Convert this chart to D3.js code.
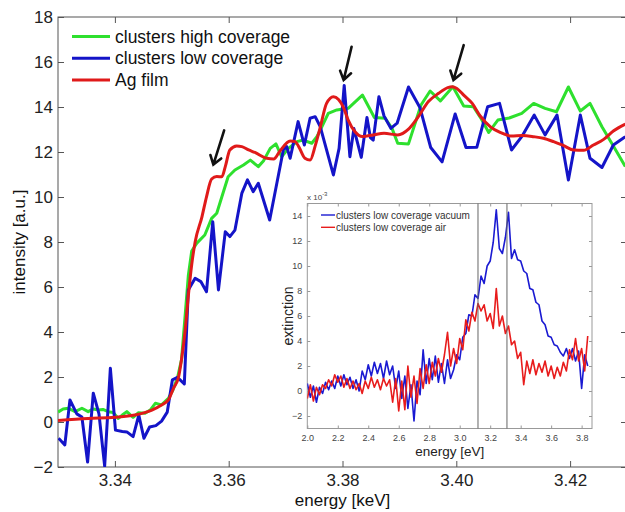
<!DOCTYPE html>
<html><head><meta charset="utf-8">
<script src="https://cdn.jsdelivr.net/npm/d3@7"></script>
<style>
html,body{margin:0;padding:0;background:#fff;}
svg{display:block;font-family:Arial,"Liberation Sans",Helvetica,sans-serif;}
</style></head>
<body><svg id="c" width="625" height="512"></svg>
<script>
// ---------- main chart data ----------
const mainXTicks = [3.34, 3.36, 3.38, 3.40, 3.42];
const mainYTicks = [-2, 0, 2, 4, 6, 8, 10, 12, 14, 16, 18];
const seriesNames = ["clusters high coverage", "clusters low coverage", "Ag film"];

const greenE = [3.3300,3.3309,3.3318,3.3330,3.3342,3.3353,3.3362,3.3371,3.3379,3.3388,3.3397,3.3406,3.3413,3.3421,3.3432,3.3441,3.3453,3.3462,3.3471,3.3482,3.3494,3.3502,3.3510,3.3517,3.3523,3.3529,3.3535,3.3544,3.3558,3.3570,3.3579,3.3588,3.3599,3.3611,3.3626,3.3638,3.3652,3.3661,3.3673,3.3683,3.3693,3.3705,3.3720,3.3731,3.3746,3.3755,3.3761,3.3775,3.3790,3.3810,3.3835,3.3856,3.3875,3.3887,3.3897,3.3916,3.3938,3.3954,3.3972,3.3994,3.4013,3.4030,3.4044,3.4057,3.4073,3.4093,3.4115,3.4136,3.4156,3.4176,3.4197,3.4218,3.4235,3.4256,3.4276,3.4297];
const greenI = [0.44,0.58,0.61,0.46,0.61,0.46,0.58,0.53,0.56,0.46,0.42,0.16,0.31,0.46,0.21,0.41,0.39,0.53,0.83,0.76,1.05,1.42,1.96,2.76,4.6,6.5,7.6,7.95,8.31,9.05,9.28,10.01,10.90,11.20,11.42,11.64,11.35,11.60,12.16,12.36,11.79,12.16,12.46,12.53,12.39,12.68,12.98,13.72,13.87,13.94,14.53,13.53,13.50,13.05,12.39,12.36,14.09,14.71,14.27,14.90,14.04,14.01,13.47,12.87,13.42,13.51,13.72,14.16,13.94,13.79,14.89,13.82,14.16,13.12,12.27,11.35];

const blueE = [3.3301,3.3312,3.3321,3.3333,3.3342,3.3352,3.3362,3.3372,3.3382,3.3392,3.3401,3.3413,3.3421,3.3432,3.3442,3.3451,3.3461,3.3472,3.3482,3.3492,3.3501,3.3510,3.3522,3.3529,3.3541,3.3551,3.3561,3.3572,3.3582,3.3594,3.3602,3.3611,3.3623,3.3633,3.3643,3.3652,3.3672,3.3696,3.3702,3.3708,3.3722,3.3733,3.3743,3.3752,3.3761,3.3784,3.3794,3.3803,3.3813,3.3820,3.3833,3.3843,3.3849,3.3854,3.3864,3.3873,3.3885,3.3896,3.3916,3.3936,3.3955,3.3975,3.3998,3.4017,3.4036,3.4055,3.4076,3.4097,3.4115,3.4137,3.4156,3.4177,3.4197,3.4218,3.4235,3.4256,3.4276,3.4297];
const blueI = [-0.72,-1.02,0.98,0.36,0.22,-1.78,1.28,0.36,-1.96,2.39,-0.36,-0.42,-0.44,-0.65,0.31,-0.72,-0.22,-0.16,0.04,0.44,1.87,1.98,1.69,5.87,6.39,6.24,5.79,8.90,5.87,8.46,8.24,8.53,10.16,10.76,10.24,10.61,8.98,12.09,12.24,11.72,13.35,12.31,13.50,13.57,13.12,10.98,12.16,14.96,11.79,13.04,11.76,13.53,12.64,12.53,14.46,13.60,13.05,13.28,14.89,13.98,12.20,11.56,13.69,12.20,12.21,14.01,14.16,12.09,12.68,13.64,12.76,13.64,10.76,13.64,11.72,11.31,12.31,12.68];

const redE = [3.3300,3.3353,3.3400,3.3435,3.3465,3.3482,3.3494,3.3503,3.3512,3.3517,3.3523,3.3529,3.3535,3.3541,3.3553,3.3561,3.3570,3.3579,3.3588,3.3594,3.3602,3.3614,3.3623,3.3635,3.3646,3.3667,3.3679,3.3690,3.3708,3.3717,3.3723,3.3734,3.3743,3.3752,3.3761,3.3772,3.3784,3.3793,3.3802,3.3810,3.3822,3.3835,3.3854,3.3873,3.3897,3.3916,3.3933,3.3951,3.3969,3.3985,3.3993,3.4001,3.4013,3.4028,3.4042,3.4060,3.4077,3.4097,3.4116,3.4136,3.4153,3.4171,3.4188,3.4206,3.4224,3.4241,3.4259,3.4276,3.4297];
const redI = [0.07,0.16,0.21,0.31,0.53,0.76,0.98,1.50,2.01,2.76,3.96,5.6,7.0,8.0,9.12,10.01,10.80,10.91,10.90,11.35,12.09,12.27,12.24,12.09,11.98,11.72,11.69,12.04,12.49,12.46,12.24,11.72,11.64,12.27,13.11,14.16,14.46,14.33,13.96,13.42,12.90,12.69,12.76,12.83,12.76,13.02,13.56,14.24,14.61,14.86,14.90,14.82,14.53,14.16,13.60,13.12,12.87,12.71,12.73,12.68,12.61,12.46,12.29,12.09,12.08,12.31,12.56,12.93,13.24];

// arrows: tails and tips as [energy, intensity]
const arrowTails = [[3.3592, 12.96], [3.3816, 16.68], [3.4013, 16.75]];
const arrowTips  = [[3.3573, 11.44], [3.3802, 15.20], [3.3995, 15.20]];

// ---------- inset data ----------
const insetXTicks = [2.0, 2.2, 2.4, 2.6, 2.8, 3.0, 3.2, 3.4, 3.6, 3.8];
const insetYTicks = [-2, 0, 2, 4, 6, 8, 10, 12, 14];
const insetNames = ["clusters low coverage vacuum", "clusters low coverage air"];
const insetMarkers = [3.12, 3.31];
const insetE = [2.00,2.02,2.04,2.06,2.08,2.10,2.12,2.14,2.16,2.18,2.20,2.22,2.24,2.26,2.28,2.30,2.32,2.34,2.36,2.38,2.40,2.42,2.44,2.46,2.48,2.50,2.52,2.54,2.56,2.58,2.60,2.62,2.64,2.66,2.68,2.70,2.72,2.74,2.76,2.78,2.80,2.82,2.84,2.86,2.88,2.90,2.92,2.94,2.96,2.98,3.00,3.02,3.04,3.06,3.08,3.10,3.12,3.14,3.16,3.18,3.20,3.22,3.24,3.26,3.28,3.30,3.32,3.34,3.36,3.38,3.40,3.42,3.44,3.46,3.48,3.50,3.52,3.54,3.56,3.58,3.60,3.62,3.64,3.66,3.68,3.70,3.72,3.74,3.76,3.78,3.80,3.82,3.84];
const vacuumExt = [0.6,-0.5,0.4,-0.9,0.3,-0.2,0.7,0.1,0.8,0.2, 1.2,0.4,1.3,0.5,1.1,0.2,0.9,0.0,1.6,0.9, 2.1,1.2,2.3,1.4,2.2,1.0,2.4,1.3,2.0,0.2, 1.6,-0.6,1.2,-1.4,0.5,-2.4,0.8,-0.3,3.3,0.6, 2.6,0.9,2.8,0.7,2.2,0.6,2.5,1.0,1.7,2.9, 2.5,4.3,4.6,6.1,6.0,7.7,7.4,9.2,8.6,10.0, 10.4,11.9,14.5,11.4,11.0,12.3,14.3,10.6,11.3,10.5, 10.4,9.6,9.4,8.2,8.1,7.1,6.9,5.6,5.3,4.4, 4.3,3.7,3.6,3.1,2.8,3.4,2.6,3.4,2.4,3.2, 0.2,2.9,2.0];
const airExt = [-0.6,0.5,-0.8,0.3,-0.3,0.5,0.2,0.9,0.4,1.3, 0.7,1.2,0.3,1.0,0.2,0.8,0.1,0.6,-0.2,0.8, 0.2,1.1,0.3,0.9,0.1,1.0,0.4,0.9,-0.9,1.0, -1.6,0.8,-1.5,2.0,-0.5,1.2,-1.0,1.8,0.2,2.1, 0.6,2.3,1.2,2.6,1.5,2.9,4.7,2.0,3.4,2.2, 4.2,3.3,5.7,4.8,6.3,5.6,7.0,6.4,6.9,5.6, 6.2,5.0,8.2,5.2,6.0,4.6,5.2,3.7,4.0,2.6, 3.1,0.5,2.4,1.4,2.5,1.3,2.2,1.5,2.4,1.2, 2.0,1.0,1.9,1.2,2.3,1.6,3.3,2.5,4.2,2.4, 3.4,1.6,4.4];

// ---------- drawing ----------
const svg = d3.select("#c");
const mainColors = ["#2ee02e", "#1414c8", "#e01a1a"];
const M = {left: 58, right: 627, top: 17, bottom: 467};
const x = d3.scaleLinear().domain([3.33, 3.43]).range([M.left, M.right]);
const y = d3.scaleLinear().domain([-2, 18]).range([M.bottom, M.top]);

svg.append("defs").append("clipPath").attr("id", "mclip")
  .append("rect").attr("x", M.left).attr("y", M.top)
  .attr("width", M.right - M.left).attr("height", M.bottom - M.top);

const axisColor = "#555";
function styleAxis(g, fs) {
  g.select(".domain").remove();
  g.selectAll(".tick line").attr("stroke", axisColor);
  g.selectAll(".tick text").attr("fill", "#222").style("font-size", fs + "px")
    .style("font-family", "Arial, 'Liberation Sans', sans-serif");
}
svg.append("g").attr("transform", `translate(0,${M.bottom})`)
  .call(d3.axisBottom(x).tickValues(mainXTicks).tickFormat(d3.format(".2f")).tickSize(-6).tickPadding(7))
  .call(g => styleAxis(g, 17));
svg.append("g").attr("transform", `translate(0,${M.top})`)
  .call(d3.axisTop(x).tickValues(mainXTicks).tickFormat("").tickSize(-6))
  .call(g => styleAxis(g, 17));
svg.append("g").attr("transform", `translate(${M.left},0)`)
  .call(d3.axisLeft(y).tickValues(mainYTicks).tickFormat(d3.format("d")).tickSize(-6).tickPadding(5))
  .call(g => styleAxis(g, 17));
svg.append("g").attr("transform", `translate(${M.right},0)`)
  .call(d3.axisRight(y).tickValues(mainYTicks).tickFormat("").tickSize(-6))
  .call(g => styleAxis(g, 17));
svg.append("rect").attr("x", M.left).attr("y", M.top)
  .attr("width", M.right - M.left).attr("height", M.bottom - M.top)
  .attr("fill", "none").attr("stroke", axisColor).attr("stroke-width", 1);

const mainSeries = [
  {E: greenE, I: greenI, curve: d3.curveLinear},
  {E: blueE, I: blueI, curve: d3.curveLinear},
  {E: redE, I: redI, curve: d3.curveMonotoneX}
];
const plotG = svg.append("g").attr("clip-path", "url(#mclip)");
mainSeries.forEach((s, k) => {
  const pts = s.E.map((e, i) => [e, s.I[i]]);
  plotG.append("path").datum(pts)
    .attr("d", d3.line().x(d => x(d[0])).y(d => y(d[1])).curve(s.curve))
    .attr("fill", "none").attr("stroke", mainColors[k]).attr("stroke-width", 3)
    .attr("stroke-linejoin", "round");
});

// arrows
arrowTails.forEach((t, k) => {
  const x0 = x(t[0]), y0 = y(t[1]);
  const x1 = x(arrowTips[k][0]), y1 = y(arrowTips[k][1]);
  const ang = Math.atan2(y1 - y0, x1 - x0);
  const L = 10, W = 0.6;
  const a1 = [x1 - L * Math.cos(ang - W), y1 - L * Math.sin(ang - W)];
  const a2 = [x1 - L * Math.cos(ang + W), y1 - L * Math.sin(ang + W)];
  svg.append("path")
    .attr("d", `M${x0},${y0}L${x1},${y1}M${a1[0]},${a1[1]}L${x1},${y1}L${a2[0]},${a2[1]}`)
    .attr("fill", "none").attr("stroke", "#111").attr("stroke-width", 2.6)
    .attr("stroke-linecap", "round").attr("stroke-linejoin", "miter");
});

// main legend
seriesNames.forEach((n, k) => {
  const ly = 36.5 + k * 21.7;
  svg.append("line").attr("x1", 72).attr("x2", 110).attr("y1", ly).attr("y2", ly)
    .attr("stroke", mainColors[k]).attr("stroke-width", 3);
  svg.append("text").attr("x", 115).attr("y", ly + 6).text(n)
    .style("font-size", "17.5px").attr("fill", "#111");
});

// axis labels
svg.append("text").attr("x", (M.left + M.right) / 2).attr("y", 506)
  .attr("text-anchor", "middle").style("font-size", "17px").attr("fill", "#111").text("energy [keV]");
svg.append("text").attr("transform", `translate(25,${(M.top + M.bottom) / 2}) rotate(-90)`)
  .attr("text-anchor", "middle").style("font-size", "17px").attr("fill", "#111").text("intensity [a.u.]");

// ---------- inset ----------
const I = {left: 307.3, right: 592, top: 203.5, bottom: 428.5};
const xi = d3.scaleLinear().domain([2.0, 3.868]).range([I.left, I.right]);
const yi = d3.scaleLinear().domain([-3, 15]).range([I.bottom, I.top]);
const insetColors = ["#1a1ad2", "#e81c1c"];
const insetAxisColor = "#999";

svg.append("rect").attr("x", 278).attr("y", 186).attr("width", 322).attr("height", 272).attr("fill", "#fff");
svg.append("defs").append("clipPath").attr("id", "iclip")
  .append("rect").attr("x", I.left).attr("y", I.top)
  .attr("width", I.right - I.left).attr("height", I.bottom - I.top);

function styleInset(g) {
  g.select(".domain").remove();
  g.selectAll(".tick line").attr("stroke", insetAxisColor);
  g.selectAll(".tick text").attr("fill", "#444").style("font-size", "9px")
    .style("font-family", "Arial, 'Liberation Sans', sans-serif");
}
svg.append("g").attr("transform", `translate(0,${I.bottom})`)
  .call(d3.axisBottom(xi).tickValues(insetXTicks).tickFormat(d3.format(".1f")).tickSize(-3).tickPadding(6))
  .call(styleInset);
svg.append("g").attr("transform", `translate(0,${I.top})`)
  .call(d3.axisTop(xi).tickValues(insetXTicks).tickFormat("").tickSize(-3))
  .call(styleInset);
svg.append("g").attr("transform", `translate(${I.left},0)`)
  .call(d3.axisLeft(yi).tickValues(insetYTicks).tickFormat(d3.format("d")).tickSize(-3).tickPadding(5))
  .call(styleInset);
svg.append("g").attr("transform", `translate(${I.right},0)`)
  .call(d3.axisRight(yi).tickValues(insetYTicks).tickFormat("").tickSize(-3))
  .call(styleInset);
svg.append("rect").attr("x", I.left).attr("y", I.top)
  .attr("width", I.right - I.left).attr("height", I.bottom - I.top)
  .attr("fill", "none").attr("stroke", insetAxisColor).attr("stroke-width", 1);

const ig = svg.append("g").attr("clip-path", "url(#iclip)");
[vacuumExt, airExt].forEach((vals, k) => {
  const pts = insetE.map((e, i) => [e, vals[i]]);
  ig.append("path").datum(pts)
    .attr("d", d3.line().x(d => xi(d[0])).y(d => yi(d[1])))
    .attr("fill", "none").attr("stroke", insetColors[k]).attr("stroke-width", 1.6)
    .attr("stroke-linejoin", "round");
});
insetMarkers.forEach(m => {
  svg.append("line").attr("x1", xi(m)).attr("x2", xi(m)).attr("y1", I.top).attr("y2", I.bottom)
    .attr("stroke", "#666").attr("stroke-width", 1);
});
insetNames.forEach((n, k) => {
  const ly = 215 + k * 12.3;
  svg.append("line").attr("x1", 321).attr("x2", 335).attr("y1", ly).attr("y2", ly)
    .attr("stroke", insetColors[k]).attr("stroke-width", 1.4);
  svg.append("text").attr("x", 336).attr("y", ly + 3.5).text(n)
    .style("font-size", "10px").attr("fill", "#333");
});
const sc = svg.append("text").attr("x", 307).attr("y", 200).style("font-size", "8px").attr("fill", "#444");
sc.append("tspan").text("x 10");
sc.append("tspan").attr("dy", -4).style("font-size", "6px").text("-3");
svg.append("text").attr("x", (I.left + I.right) / 2).attr("y", 456)
  .attr("text-anchor", "middle").style("font-size", "13.5px").attr("fill", "#222").text("energy [eV]");
svg.append("text").attr("transform", `translate(293,${(I.top + I.bottom) / 2}) rotate(-90)`)
  .attr("text-anchor", "middle").style("font-size", "14px").attr("fill", "#222").text("extinction");
</script></body></html>
